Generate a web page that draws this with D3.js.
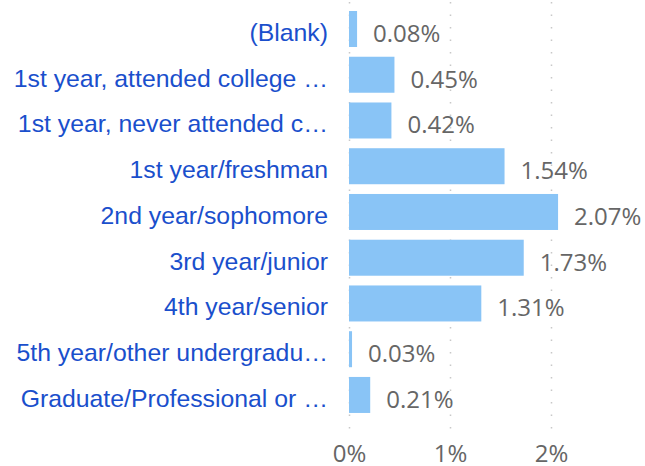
<!DOCTYPE html>
<html>
<head>
  <meta charset="utf-8">
  <title>Class year</title>
  <script src="https://d3js.org/d3.v7.min.js"></script>
  <style>
    body { margin: 0; background: #fff; }
    .cat { font-family: "Liberation Sans", Arial, sans-serif; font-size: 24.8px; fill: #1a4fcc; }
    .val { font-family: "Open Sans", sans-serif; font-size: 24px; fill: #666; }
    .tick text { font-family: "Open Sans", sans-serif; font-size: 24px; fill: #666; }
  </style>
</head>
<body>
  <div id='chart'></div>
  <script>
    var categories = ['(Blank)', '1st year, attended college \u2026', '1st year, never attended c\u2026',
          '1st year/freshman', '2nd year/sophomore', '3rd year/junior', '4th year/senior',
          '5th year/other undergradu\u2026', 'Graduate/Professional or \u2026'],
        values = [0.08, 0.45, 0.42, 1.54, 2.07, 1.73, 1.31, 0.03, 0.21],
        ticks = [0, 1, 2];

    var width = 645, height = 466;

    var svg = d3.select('#chart').append('svg')
        .attr('width', width)
        .attr('height', height);

    var x = d3.scaleLinear().domain([0, 1]).range([349, 450]);
    var y = d3.scaleBand().domain(categories).range([1.25, 422.7]).padding(0.213);

    // dotted gridlines
    svg.append('g').selectAll('line')
        .data(ticks)
        .enter().append('line')
          .attr('x1', function(d) { return x(d) + 0.5; })
          .attr('x2', function(d) { return x(d) + 0.5; })
          .attr('y1', 2)
          .attr('y2', 432)
          .attr('stroke', '#c8c8c8')
          .attr('stroke-width', 1.5)
          .attr('stroke-dasharray', '1.5,11');

    svg.append('g').selectAll('rect')
        .data(values)
        .enter().append('rect')
          .attr('x', x(0))
          .attr('y', function(d, i) { return y(categories[i]); })
          .attr('width', function(d) { return x(d) - x(0); })
          .attr('height', y.bandwidth())
          .attr('fill', '#89c4f6');

    svg.append('g').selectAll('text')
        .data(values)
        .enter().append('text')
          .attr('class', 'val')
          .attr('x', function(d) { return x(d) + 16; })
          .attr('y', function(d, i) { return y(categories[i]) + y.bandwidth() / 2 + 13; })
          .text(function(d) { return d.toFixed(2) + '%'; });

    svg.append('g').selectAll('text')
        .data(categories)
        .enter().append('text')
          .attr('class', 'cat')
          .attr('x', 328)
          .attr('y', function(d) { return y(d) + y.bandwidth() / 2 + 12; })
          .attr('text-anchor', 'end')
          .text(function(d) { return d; });

    var axis = svg.append('g')
        .attr('transform', 'translate(0,436)')
        .call(d3.axisBottom(x).tickValues(ticks).tickSize(0).tickPadding(0)
          .tickFormat(function(d) { return d + '%'; }));
    axis.select('.domain').remove();
    axis.selectAll('text').attr('dy', '0').attr('y', 25.5);
  </script>
</body>
</html>
